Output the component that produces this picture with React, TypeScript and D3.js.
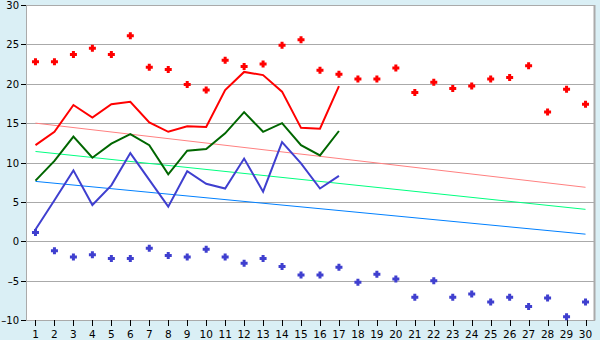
import React from "react";
import * as d3 from "d3";

const categories = d3.range(1, 31).map(String);
const yTicks = [-10, -5, 0, 5, 10, 15, 20, 25, 30];

const redPoints = [22.8, 22.8, 23.7, 24.5, 23.7, 26.1, 22.1, 21.8, 19.9, 19.2, 23.0, 22.2, 22.5, 24.9, 25.6, 21.7, 21.2, 20.6, 20.6, 22.0, 18.9, 20.2, 19.4, 19.7, 20.6, 20.8, 22.3, 16.4, 19.3, 17.4];
const bluePoints = [1.1, -1.2, -2.0, -1.7, -2.2, -2.2, -0.9, -1.8, -2.0, -1.0, -2.0, -2.8, -2.2, -3.2, -4.3, -4.3, -3.3, -5.2, -4.2, -4.8, -7.1, -5.0, -7.1, -6.7, -7.7, -7.1, -8.3, -7.2, -9.6, -7.7];

const redLine = [12.2, 13.9, 17.3, 15.7, 17.4, 17.7, 15.1, 13.9, 14.6, 14.5, 19.2, 21.5, 21.1, 19.0, 14.4, 14.3, 19.7];
const greenLine = [7.7, 10.2, 13.3, 10.6, 12.4, 13.6, 12.2, 8.5, 11.5, 11.7, 13.7, 16.4, 13.9, 15.0, 12.2, 10.9, 14.0];
const blueLine = [1.5, 5.2, 9.0, 4.6, 7.1, 11.2, 7.8, 4.4, 8.9, 7.3, 6.7, 10.5, 6.3, 12.6, 9.9, 6.7, 8.3];

const trendCats = ["1", "30"];
const pinkTrend = [15.0, 6.85];
const springTrend = [11.4, 4.05];
const azureTrend = [7.6, 0.9];

const W = 600, H = 340;
const left = 26, right = 595, top = 5, bottom = 320;

const x = d3.scalePoint<string>().domain(categories).range([left, right]).padding(0.5);
const y = d3.scaleLinear().domain([-10, 30]).range([bottom, top]);

const markerPath = "M-1.5,-3.5h3v2h2v3h-2v2h-3v-2h-2v-3h2z";

function linePath(vals: number[], cats: string[]) {
  const gen = d3.line<number>().x((_, i) => x(cats[i]) as number).y((d) => y(d));
  return gen(vals) || "";
}

export default function App() {
  const font = "DejaVu Sans, Verdana, sans-serif";
  return (
    <svg width={W} height={H} style={{ display: "block", position: "absolute", left: 0, top: 0 }}>
      <rect x={0} y={0} width={W} height={H} fill="#daeff5" />
      <rect x={left} y={top} width={right - left} height={bottom - top} fill="#ffffff" />
      {yTicks.map((t) => (
        <g key={t}>
          <line x1={left} x2={right} y1={Math.round(y(t)) + 0.5} y2={Math.round(y(t)) + 0.5} stroke="#aaaaaa" strokeWidth={1} />
          <line x1={left - 5} x2={left} y1={Math.round(y(t)) + 0.5} y2={Math.round(y(t)) + 0.5} stroke="#000" strokeWidth={1} />
          <text x={left - 7} y={y(t) + 4} textAnchor="end" fontFamily={font} fontSize={10} fill="#000">
            {t < 0 ? "\u2013" + Math.abs(t) : String(t)}
          </text>
        </g>
      ))}
      <line x1={left + 0.5} x2={left + 0.5} y1={top} y2={bottom} stroke="#aaaaaa" />
      <line x1={right - 0.5} x2={right - 0.5} y1={top} y2={bottom + 0.5} stroke="#aaaaaa" strokeWidth={2} />
      {categories.map((c) => (
        <g key={c}>
          <line x1={Math.round(x(c) as number) + 0.5} x2={Math.round(x(c) as number) + 0.5} y1={bottom} y2={bottom + 6} stroke="#000" />
          <text x={x(c)} y={337.5} textAnchor="middle" fontFamily={font} fontSize={10.5} fill="#000">{c}</text>
        </g>
      ))}
      <path d={linePath(pinkTrend, trendCats)} fill="none" stroke="#ff8080" strokeWidth={1} />
      <path d={linePath(springTrend, trendCats)} fill="none" stroke="#00ff80" strokeWidth={1} />
      <path d={linePath(azureTrend, trendCats)} fill="none" stroke="#0080ff" strokeWidth={1} />
      <path d={linePath(redLine, categories)} fill="none" stroke="#ff0000" strokeWidth={2} />
      <path d={linePath(greenLine, categories)} fill="none" stroke="#006600" strokeWidth={2} />
      <path d={linePath(blueLine, categories)} fill="none" stroke="#3f3fcf" strokeWidth={2} />
      {redPoints.map((v, i) => (
        <path key={"r" + i} d={markerPath} transform={`translate(${x(categories[i])},${y(v)})`} fill="#ff0000" />
      ))}
      {bluePoints.map((v, i) => (
        <path key={"b" + i} d={markerPath} transform={`translate(${x(categories[i])},${y(v)})`} fill="#3f3fcf" />
      ))}
    </svg>
  );
}
